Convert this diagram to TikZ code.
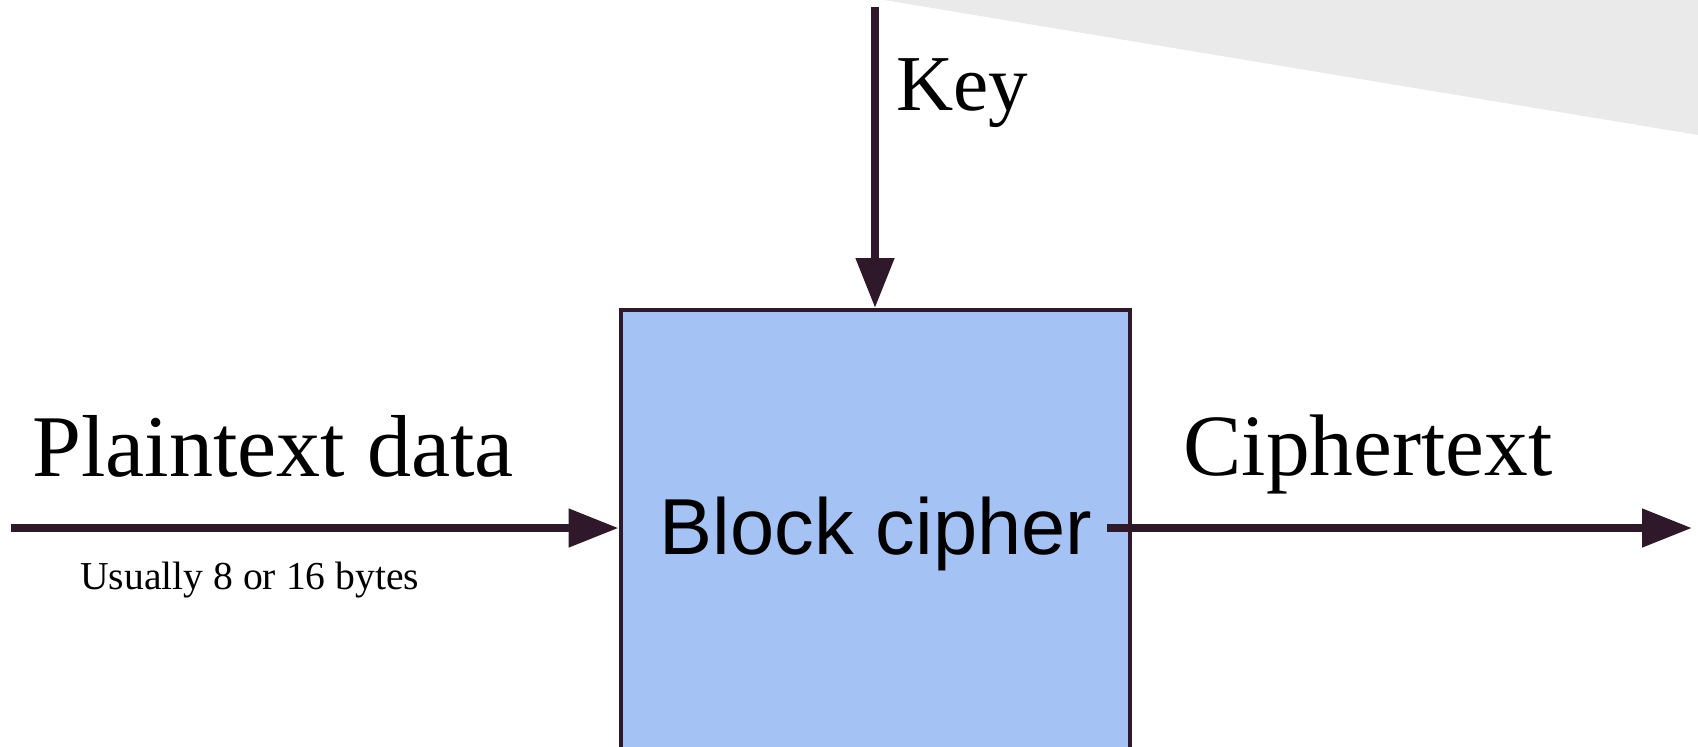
\documentclass[tikz,border=0pt]{standalone}
\usepackage{fontspec}
\setmainfont{Liberation Serif}
\newfontfamily\sansf{Liberation Sans}
\usetikzlibrary{arrows.meta}
\definecolor{lc}{RGB}{46,24,42}
\definecolor{boxfill}{RGB}{164,194,244}
\definecolor{trigray}{RGB}{234,234,234}
\tikzset{
  conn/.style={draw=lc, line width=4pt, -{Triangle[length=25pt,width=18.5pt]}},
  lbl/.style={inner sep=0pt, anchor=base west, text=black},
  cipherbox/.style={draw=lc, line width=2pt, fill=boxfill, minimum width=254.5pt, minimum height=221pt, inner sep=0pt}
}
\begin{document}
\begin{tikzpicture}[x=0.5pt,y=-0.5pt]
\useasboundingbox (0,0) rectangle (1698,746);
\fill[fill=trigray] (884,0) -- (1698,0) -- (1698,135) -- cycle;
\node[cipherbox] (box) at (875,531) {};
\node[inner sep=0pt, anchor=base] (bc) at (876,554) {\sansf\fontsize{39.7pt}{44pt}\selectfont Block cipher};
\coordinate (keytop) at (875,7);
\coordinate (pstart) at (11,528);
\coordinate (cstart) at (1107,528);
\coordinate (cend) at (1692,528);
\draw[conn] (keytop) -- (box.north);
\draw[conn] (pstart) -- (pstart -| box.west);
\draw[conn] (cstart) -- (cend);
\node[lbl] (key) at (896,110) {\fontsize{39.6pt}{44pt}\selectfont Key};
\node[lbl] (pt) at (32,476) {\fontsize{44pt}{50pt}\selectfont Plaintext data};
\node[lbl] (ct) at (1183,475) {\fontsize{43.7pt}{50pt}\selectfont Ciphertext};
\node[lbl] (us) at (80,589) {\fontsize{19.8pt}{24pt}\selectfont Usually 8 or 16 bytes};
\end{tikzpicture}
\end{document}
